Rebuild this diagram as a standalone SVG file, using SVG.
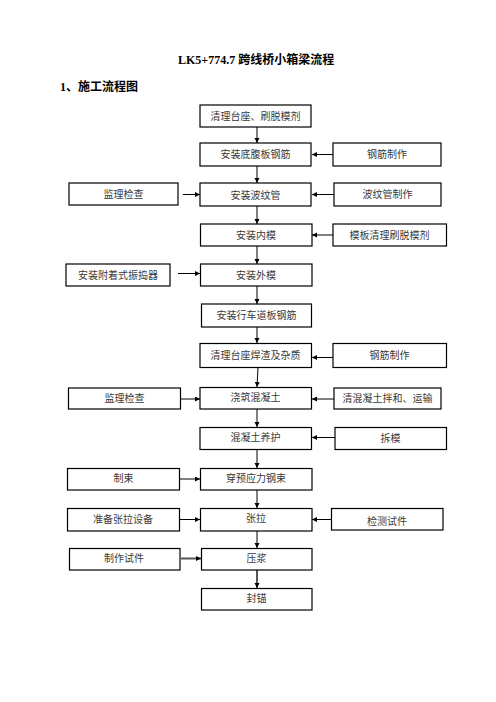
<svg xmlns="http://www.w3.org/2000/svg" width="496" height="702" viewBox="0 0 496 702">
<style>
.bg{fill:#ffffff}
.box{fill:#ffffff;stroke:#000000;stroke-width:1.2}
.t{font-family:"Liberation Serif","Noto Sans CJK SC",serif;font-size:10px;fill:#3a3a3a;text-anchor:middle;dominant-baseline:central}
.h{font-family:"Liberation Serif","Noto Sans CJK SC",serif;font-size:12px;font-weight:bold;fill:#000000}
.c{stroke:#000000;stroke-width:1;fill:none;marker-end:url(#ah)}
.g{stroke:#555555;stroke-width:2;fill:none;marker-end:url(#ah)}
</style>
<defs>
<marker id="ah" markerUnits="userSpaceOnUse" markerWidth="6" markerHeight="6" refX="5" refY="2.5" orient="auto">
<path d="M0,0 L5,2.5 L0,5 Z" fill="#000000"/>
</marker>
</defs>
<rect class="bg" x="0" y="0" width="496" height="702"/>
<text class="h" x="178" y="64">LK5+774.7 跨线桥小箱梁流程</text>
<text class="h" x="60" y="91">1、施工流程图</text>

<g id="connectors">
<line class="c" x1="257" y1="127" x2="257" y2="143"/>
<line class="c" x1="257" y1="166" x2="257" y2="183"/>
<line class="c" x1="257" y1="206" x2="257" y2="224"/>
<line class="c" x1="257" y1="246" x2="257" y2="264"/>
<line class="c" x1="257" y1="286" x2="257" y2="304"/>
<line class="c" x1="257" y1="327" x2="257" y2="343"/>
<line class="c" x1="258" y1="367" x2="257" y2="387"/>
<line class="c" x1="257" y1="409" x2="257" y2="427"/>
<line class="c" x1="257" y1="449" x2="257" y2="468"/>
<line class="c" x1="257" y1="490" x2="257" y2="508"/>
<line class="c" x1="257" y1="531" x2="257" y2="548"/>
<line class="g" x1="257" y1="570" x2="257" y2="588"/>
<line class="c" x1="333" y1="154.5" x2="312" y2="154.5"/>
<line class="c" x1="183" y1="194.5" x2="200" y2="194.5"/>
<line class="c" x1="334" y1="194.5" x2="312" y2="194.5"/>
<line class="c" x1="333" y1="235" x2="312" y2="235"/>
<line class="c" x1="178" y1="273.5" x2="200" y2="273.5"/>
<line class="c" x1="333" y1="357.5" x2="312" y2="357.5"/>
<line class="c" x1="181" y1="399" x2="200" y2="399"/>
<line class="c" x1="334" y1="399" x2="312" y2="399"/>
<line class="c" x1="335" y1="437.5" x2="312" y2="437.5"/>
<line class="c" x1="179" y1="479" x2="200" y2="479"/>
<line class="c" x1="180" y1="519.5" x2="200" y2="519.5"/>
<line class="c" x1="332" y1="519.5" x2="312" y2="519.5"/>
<line class="g" x1="181" y1="558.5" x2="201" y2="558.5"/>
</g>

<g id="n1"><rect class="box" x="200" y="105" width="111" height="22"/><text class="t" x="255.5" y="116.5">清理台座、刷脱模剂</text></g>
<g id="n2"><rect class="box" x="200" y="143" width="111" height="23"/><text class="t" x="255.5" y="154.5">安装底腹板钢筋</text></g>
<g id="n3"><rect class="box" x="333" y="143" width="108" height="23"/><text class="t" x="387" y="154.5">钢筋制作</text></g>
<g id="n4"><rect class="box" x="69" y="183" width="109" height="22"/><text class="t" x="123.5" y="194.5">监理检查</text></g>
<g id="n5"><rect class="box" x="200" y="183" width="111" height="23"/><text class="t" x="255.5" y="195">安装波纹管</text></g>
<g id="n6"><rect class="box" x="334" y="183" width="107" height="23"/><text class="t" x="387.5" y="194.5">波纹管制作</text></g>
<g id="n7"><rect class="box" x="200.5" y="224" width="111.5" height="22"/><text class="t" x="256" y="235">安装内模</text></g>
<g id="n8"><rect class="box" x="333" y="224" width="113.5" height="22"/><text class="t" x="389.5" y="235">模板清理刷脱模剂</text></g>
<g id="n9"><rect class="box" x="66" y="264" width="104" height="22"/><text class="t" x="118" y="275">安装附着式振捣器</text></g>
<g id="n10"><rect class="box" x="200.5" y="264" width="111.5" height="22"/><text class="t" x="256" y="275">安装外模</text></g>
<g id="n11"><rect class="box" x="201.5" y="304" width="110" height="23"/><text class="t" x="256.5" y="315">安装行车道板钢筋</text></g>
<g id="n12"><rect class="box" x="200" y="343.5" width="111.5" height="24"/><text class="t" x="255.5" y="355">清理台座焊渣及杂质</text></g>
<g id="n13"><rect class="box" x="333" y="343.5" width="113.5" height="24"/><text class="t" x="389.5" y="355">钢筋制作</text></g>
<g id="n14"><rect class="box" x="68.5" y="388" width="112" height="21"/><text class="t" x="124.5" y="398">监理检查</text></g>
<g id="n15"><rect class="box" x="200" y="387.5" width="111.5" height="21.5"/><text class="t" x="255.5" y="397.5">浇筑混凝土</text></g>
<g id="n16"><rect class="box" x="334" y="388" width="107" height="21"/><text class="t" x="387.5" y="398">清混凝土拌和、运输</text></g>
<g id="n17"><rect class="box" x="200" y="427.5" width="111.5" height="22"/><text class="t" x="255.5" y="437.5">混凝土养护</text></g>
<g id="n18"><rect class="box" x="335" y="427.5" width="111.5" height="22"/><text class="t" x="390.5" y="438">拆模</text></g>
<g id="n19"><rect class="box" x="67.5" y="468.5" width="112" height="21.5"/><text class="t" x="123.5" y="478.5">制束</text></g>
<g id="n20"><rect class="box" x="200.5" y="468.5" width="111.5" height="21.5"/><text class="t" x="256" y="478.5">穿预应力钢束</text></g>
<g id="n21"><rect class="box" x="67.5" y="508.5" width="112" height="22.5"/><text class="t" x="123" y="519">准备张拉设备</text></g>
<g id="n22"><rect class="box" x="200.5" y="508.5" width="111.5" height="22.5"/><text class="t" x="256" y="518.5">张拉</text></g>
<g id="n23"><rect class="box" x="331.5" y="508.5" width="111.5" height="21.5"/><text class="t" x="387" y="521.5">检测试件</text></g>
<g id="n24"><rect class="box" x="69.5" y="548.5" width="110.5" height="21.5"/><text class="t" x="124" y="558">制作试件</text></g>
<g id="n25"><rect class="box" x="201.5" y="548.5" width="110.5" height="21.5"/><text class="t" x="256.5" y="558.5">压浆</text></g>
<g id="n26"><rect class="box" x="201.5" y="588.5" width="110.5" height="21.5"/><text class="t" x="256.5" y="598.5">封锚</text></g>
</svg>
